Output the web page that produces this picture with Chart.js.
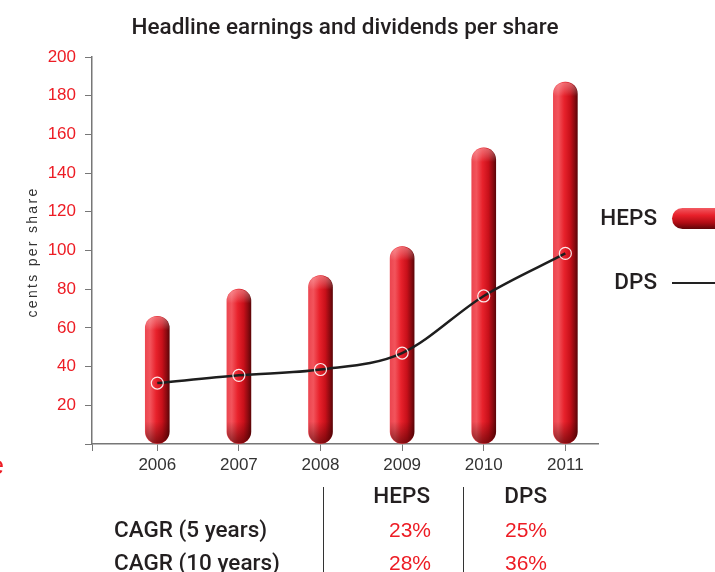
<!DOCTYPE html>
<html>
<head>
<meta charset="utf-8">
<script src="https://cdn.jsdelivr.net/npm/chart.js@4.4.0/dist/chart.umd.min.js"></script>
<style>
  html, body { margin: 0; padding: 0; background: #fff; }
  #wrap { position: relative; width: 715px; height: 572px; overflow: hidden; }
</style>
</head>
<body>
<div id="wrap"><canvas id="epsChart" width="715" height="572"></canvas></div>
<script>
const years = [2006, 2007, 2008, 2009, 2010, 2011];
const heps = [66, 80, 87, 102, 153, 187];
const dps = [31.5, 35.5, 38.5, 47, 76.5, 98.5];
const yTicks = [0, 20, 40, 60, 80, 100, 120, 140, 160, 180, 200];

const cagrRows = ["CAGR (5 years)", "CAGR (10 years)"];
const cagrHeps = ["23%", "28%"];
const cagrDps = ["25%", "36%"];

const RED = "#ed1c24";
const DARK = "#231f20";
const DARK_FONT = "500 22.5px Roboto";

function barGradient(ctx, x, w) {
  const g = ctx.createLinearGradient(x - w / 2, 0, x + w / 2, 0);
  g.addColorStop(0, "#ec4650");
  g.addColorStop(0.2, "#f2545c");
  g.addColorStop(0.45, "#e8222c");
  g.addColorStop(0.7, "#c8101a");
  g.addColorStop(0.88, "#8c0a10");
  g.addColorStop(1, "#5e0508");
  return g;
}

const decor = {
  id: "decor",
  afterDatasetDraw(chart, args) {
    if (args.index !== 0) return;
    const ctx = chart.ctx;
    chart.getDatasetMeta(0).data.forEach((bar) => {
      const w = bar.width, top = bar.y, base = bar.base, h = base - top;
      ctx.save();
      ctx.beginPath();
      ctx.roundRect(bar.x - w / 2, top, w, h, w / 2);
      ctx.clip();
      const g = ctx.createLinearGradient(0, top, 0, base);
      g.addColorStop(0, "rgba(255,200,200,0.45)");
      g.addColorStop(Math.min(0.5, 14 / h), "rgba(255,255,255,0)");
      g.addColorStop(Math.max(0.5, 1 - 22 / h), "rgba(60,0,0,0)");
      g.addColorStop(1, "rgba(60,0,0,0.55)");
      ctx.fillStyle = g;
      ctx.fillRect(bar.x - w / 2, top, w, h);
      ctx.restore();
    });
  },
  afterDraw(chart) {
    const ctx = chart.ctx;
    ctx.save();

    // y axis title
    ctx.save();
    ctx.translate(33, 252);
    ctx.rotate(-Math.PI / 2);
    ctx.font = "14px 'Liberation Sans'";
    ctx.letterSpacing = "2.3px";
    ctx.fillStyle = "#333";
    ctx.textAlign = "center";
    ctx.textBaseline = "middle";
    ctx.fillText("cents per share", 0, 0);
    ctx.restore();

    // legend
    const ds = chart.data.datasets;
    ctx.font = DARK_FONT;
    ctx.fillStyle = DARK;
    ctx.textAlign = "right";
    ctx.textBaseline = "middle";
    ctx.fillText(ds[0].label, 657, 219);
    ctx.fillText(ds[1].label, 657, 283);
    const pg = ctx.createLinearGradient(0, 208, 0, 229);
    pg.addColorStop(0, "#f25a62");
    pg.addColorStop(0.35, "#e8202a");
    pg.addColorStop(0.7, "#b00c14");
    pg.addColorStop(1, "#5e0508");
    ctx.fillStyle = pg;
    ctx.beginPath();
    ctx.roundRect(672, 208, 80, 21, 10.5);
    ctx.fill();
    ctx.strokeStyle = "#222";
    ctx.lineWidth = 2;
    ctx.beginPath();
    ctx.moveTo(672, 283);
    ctx.lineTo(715, 283);
    ctx.stroke();

    // CAGR table
    ctx.strokeStyle = "#333";
    ctx.lineWidth = 1;
    [323, 463].forEach((x) => {
      ctx.beginPath();
      ctx.moveTo(x + 0.5, 487);
      ctx.lineTo(x + 0.5, 572);
      ctx.stroke();
    });
    ctx.font = DARK_FONT;
    ctx.fillStyle = DARK;
    ctx.textAlign = "right";
    ctx.fillText("HEPS", 430, 497);
    ctx.fillText("DPS", 547, 497);
    cagrRows.forEach((row, i) => {
      const y = 531 + i * 33;
      ctx.font = DARK_FONT;
      ctx.fillStyle = DARK;
      ctx.textAlign = "left";
      ctx.fillText(row, 114, y);
      ctx.font = "21px 'Liberation Sans'";
      ctx.fillStyle = RED;
      ctx.textAlign = "right";
      ctx.fillText(cagrHeps[i], 431, y);
      ctx.fillText(cagrDps[i], 547, y);
    });

    // cut-off letter at left edge
    ctx.font = "26px 'Liberation Sans'";
    ctx.fillStyle = RED;
    ctx.textAlign = "right";
    ctx.fillText("e", 4, 467);
    ctx.restore();
  }
};

const ctx = document.getElementById("epsChart").getContext("2d");
const epsChart = new Chart(ctx, {
  type: "bar",
  data: {
    datasets: [
      {
        type: "bar",
        label: "HEPS",
        data: years.map((y, i) => ({ x: y, y: heps[i] })),
        backgroundColor: (c) => {
          const chart = c.chart;
          if (!chart.chartArea || c.dataIndex === undefined) return RED;
          const x = chart.scales.x.getPixelForValue(years[c.dataIndex]);
          return barGradient(chart.ctx, x, 24);
        },
        barThickness: 24,
        borderRadius: 12,
        borderSkipped: false,
        order: 2,
      },
      {
        type: "line",
        label: "DPS",
        data: years.map((y, i) => ({ x: y, y: dps[i] })),
        borderColor: "#1e1e1e",
        borderWidth: 2.5,
        cubicInterpolationMode: "monotone",
        pointRadius: 6,
        pointBackgroundColor: "rgba(0,0,0,0)",
        pointBorderColor: "rgba(255,255,255,0.9)",
        pointBorderWidth: 1.2,
        order: 1,
      },
    ],
  },
  options: {
    responsive: false,
    animation: false,
    layout: { padding: { left: 0, right: 117, top: 0, bottom: 88 } },
    plugins: {
      legend: { display: false },
      tooltip: { enabled: false },
      title: {
        display: true,
        fullSize: false,
        text: "Headline earnings and dividends per share",
        color: DARK,
        font: { family: "Roboto", size: 22.5, weight: "500", lineHeight: 1.2 },
        padding: { top: 15, bottom: 15 },
      },
    },
    scales: {
      x: {
        type: "linear",
        min: 2005.2,
        max: 2011.4,
        offset: false,
        afterFit: (s) => { s.height = 40; },
        afterBuildTicks: (s) => {
          s.ticks = [s.min].concat(years).map((v) => ({ value: v }));
        },
        ticks: {
          color: "#333",
          font: { family: "Liberation Sans", size: 17 },
          padding: 4,
          autoSkip: false,
          maxRotation: 0,
          callback: (v) => (years.includes(v) ? String(v) : ""),
        },
        grid: { drawOnChartArea: false, offset: false, tickLength: 7, color: "#777", lineWidth: 1 },
        border: { color: "#777", width: 1.5 },
      },
      y: {
        min: 0,
        max: 200,
        afterFit: (s) => { s.width = 92; },
        afterBuildTicks: (s) => {
          s.ticks = yTicks.map((v) => ({ value: v }));
        },
        ticks: {
          color: RED,
          font: { family: "Liberation Sans", size: 17 },
          padding: 9,
          callback: (v) => (v === 0 ? "" : String(v)),
        },
        grid: { drawOnChartArea: false, tickLength: 7, color: "#777", lineWidth: 1 },
        border: { color: "#777", width: 1.5 },
      },
    },
  },
  plugins: [decor],
});
</script>
</body>
</html>
